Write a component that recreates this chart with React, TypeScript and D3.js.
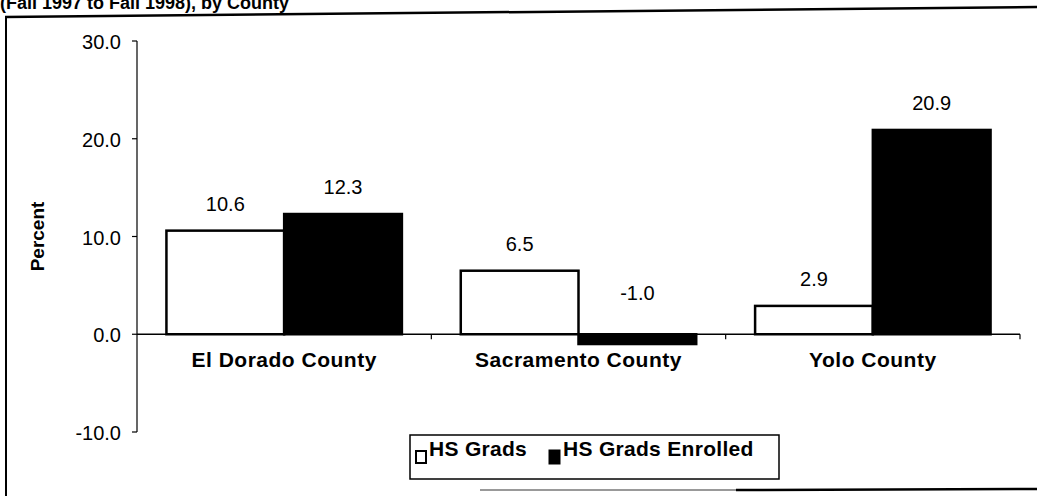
import React from 'react';
import * as d3 from 'd3';

const counties = ['El Dorado County', 'Sacramento County', 'Yolo County'];
const seriesNames = ['HS Grads', 'HS Grads Enrolled'];
const hsGrads = [10.6, 6.5, 2.9];
const hsGradsEnrolled = [12.3, -1.0, 20.9];
const yTicks = [-10, 0, 10, 20, 30];

const W = 1037;
const H = 496;
const FONT = 'Arial, "Liberation Sans", Helvetica, sans-serif';

// plain hyphen for negatives, like the original
const fmt = (v: number) => v.toFixed(1);

const App = () => {
  const left = 137;
  const right = 1020;

  const y = d3.scaleLinear().domain([-10, 30]).range([432, 41]);
  const x = d3.scaleBand<string>()
    .domain(counties)
    .range([left, right])
    .paddingInner(0.2)
    .paddingOuter(0.1);
  const xs = d3.scaleBand<string>().domain(seriesNames).range([0, x.bandwidth()]);

  const series = [hsGrads, hsGradsEnrolled];
  const fills = ['#ffffff', '#000000'];
  const step = x.step();

  return (
    <svg width={W} height={H} style={{ position: 'absolute', left: 0, top: 0, background: '#fff' }}>
      {/* cut-off title and outer frame */}
      <text x={0} y={9} fontFamily={FONT} fontWeight="bold" fontSize={18}>
        (Fall 1997 to Fall 1998), by County
      </text>
      <line x1={5} y1={17} x2={W} y2={7} stroke="#000" strokeWidth={2.5} />
      <line x1={6} y1={16} x2={6} y2={H} stroke="#000" strokeWidth={2} />
      <line x1={480} y1={490} x2={736} y2={490} stroke="#999" strokeWidth={2} />
      <line x1={736} y1={490} x2={W} y2={489} stroke="#000" strokeWidth={2.5} />

      {/* y axis */}
      <line x1={left} y1={y(30)} x2={left} y2={y(-10)} stroke="#000" strokeWidth={1.2} />
      {yTicks.map((t) => (
        <g key={t}>
          <line x1={left - 5} x2={left} y1={y(t)} y2={y(t)} stroke="#000" strokeWidth={1.2} />
          <text x={121} y={y(t) + 8} textAnchor="end" fontFamily={FONT} fontSize={20}>
            {fmt(t)}
          </text>
        </g>
      ))}
      <text
        transform={`translate(44, ${y(10)}) rotate(-90)`}
        textAnchor="middle"
        fontFamily={FONT}
        fontWeight="bold"
        fontSize={19}
      >
        Percent
      </text>

      {/* bars */}
      {counties.map((c, i) => (
        <g key={c} transform={`translate(${x(c)},0)`}>
          {series.map((s, j) => {
            const v = s[i];
            const bx = xs(seriesNames[j]) as number;
            const top = y(Math.max(v, 0));
            const h = Math.abs(y(v) - y(0));
            const ly = v >= 0 ? top - 20 : y(0) - 34;
            return (
              <g key={j}>
                <rect
                  x={bx}
                  y={top}
                  width={xs.bandwidth()}
                  height={h}
                  fill={fills[j]}
                  stroke="#000"
                  strokeWidth={2.5}
                />
                <text
                  x={bx + xs.bandwidth() / 2}
                  y={ly}
                  textAnchor="middle"
                  fontFamily={FONT}
                  fontSize={20}
                >
                  {fmt(v)}
                </text>
              </g>
            );
          })}
        </g>
      ))}

      {/* x axis */}
      <line x1={left} x2={right} y1={y(0)} y2={y(0)} stroke="#000" strokeWidth={1.5} />
      {counties.map((c, i) => (
        <g key={c}>
          <line
            x1={left + step * (i + 1)}
            x2={left + step * (i + 1)}
            y1={y(0)}
            y2={y(0) + 5}
            stroke="#000"
            strokeWidth={1.2}
          />
          <text
            x={(x(c) as number) + x.bandwidth() / 2}
            y={y(0) + 33}
            textAnchor="middle"
            fontFamily={FONT}
            fontWeight="bold"
            fontSize={21}
            letterSpacing={0.5}
          >
            {c}
          </text>
        </g>
      ))}

      {/* legend */}
      <rect x={410} y={435} width={369} height={44} fill="#fff" stroke="#000" strokeWidth={1.5} />
      <rect x={416} y={451} width={10} height={12} fill="#fff" stroke="#000" strokeWidth={2} />
      <text x={429} y={456} fontFamily={FONT} fontWeight="bold" fontSize={21} letterSpacing={0.3}>
        {seriesNames[0]}
      </text>
      <rect x={549} y={450} width={11} height={14} fill="#000" stroke="#000" strokeWidth={1} />
      <text x={563} y={456} fontFamily={FONT} fontWeight="bold" fontSize={21} letterSpacing={0.3}>
        {seriesNames[1]}
      </text>
    </svg>
  );
};

export default App;
